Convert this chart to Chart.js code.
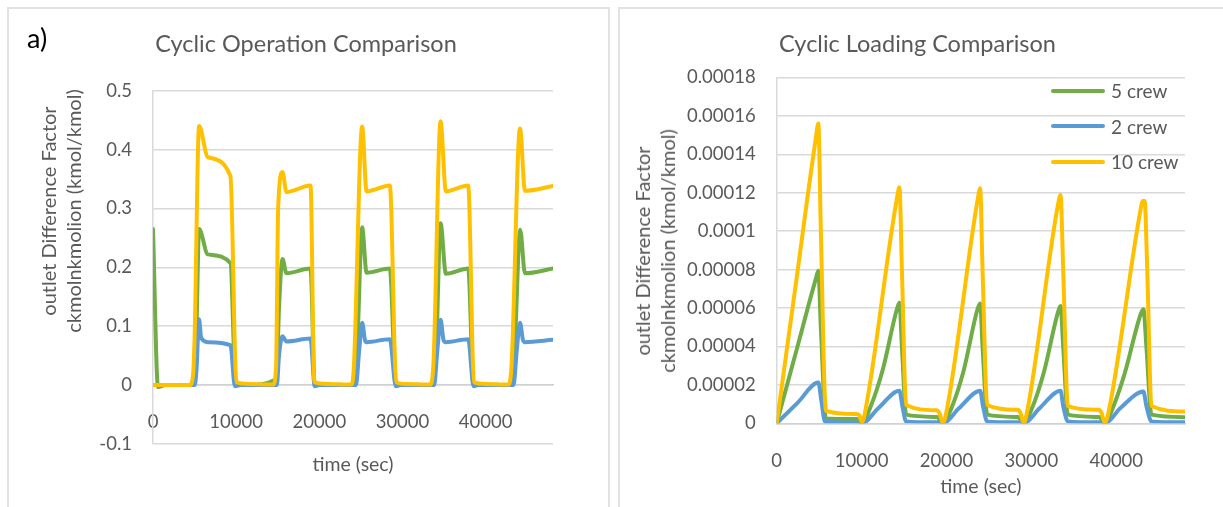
<!DOCTYPE html>
<html>
<head>
<meta charset="utf-8">
<title>Cyclic comparison</title>
<script src="https://cdn.jsdelivr.net/npm/chart.js@4.4.1/dist/chart.umd.min.js"></script>
<style>
  body { margin: 0; background: #fff; width: 1223px; height: 507px; overflow: hidden; position: relative; font-family: Lato, "Liberation Sans", sans-serif; }
  .panel { position: absolute; top: 7px; height: 530px; border: 2px solid #e2e2e2; box-sizing: border-box; }
  #panelA { left: 7px; width: 603px; }
  #panelB { left: 618px; width: 640px; }
  canvas { position: absolute; top: 0; }
  #opChart { left: 0; }
  #loadChart { left: 612px; }
  .ytitle { position: absolute; transform: translate(-50%, -50%) rotate(-90deg); white-space: nowrap; text-align: center; color: #595959; font-size: 20px; line-height: 25px; }
  #tag { position: absolute; left: 27px; top: 21px; font-size: 27px; color: #000; }
  #legend { position: absolute; left: 1051px; top: 73px; }
  .leg { height: 35.5px; display: flex; align-items: center; color: #595959; font-size: 19px; }
  .leg span { display: inline-block; width: 54px; height: 4px; border-radius: 2px; margin-right: 6px; }
</style>
</head>
<body>
<div class="panel" id="panelA"></div>
<div class="panel" id="panelB"></div>
<canvas id="opChart" width="612" height="507"></canvas>
<canvas id="loadChart" width="611" height="507"></canvas>
<div id="tag">a)</div>
<div class="ytitle" style="left:61px; top:211px">outlet Difference Factor<br>ckmolnkmolion (kmol/kmol)</div>
<div class="ytitle" style="left:655px; top:251px">outlet Difference Factor<br>ckmolnkmolion (kmol/kmol)</div>
<div id="legend"></div>
<script>
const seriesNames = ["5 crew", "2 crew", "10 crew"];
const seriesColors = ["#70AD47", "#5B9BD5", "#FFC000"];
const TIME_MAX = 48100;
const timeTicks = [0, 10000, 20000, 30000, 40000];

// left chart: cyclic operation
const opTime5 = [0, 600, 1500, 4900, 5200, 5540, 6600, 9310, 9950, 11000,
  14850, 15150, 15570, 16050, 18940, 19450, 21000,
  24250, 24600, 25150, 25680, 28480, 29200, 30500,
  33750, 34100, 34580, 35220, 37900, 38550, 40000,
  43200, 43550, 44150, 44730, 48100];
const opCrew5 = [0.265, -0.003, 0, 0, 0.08, 0.265, 0.222, 0.207, 0, 0,
  0.01, 0.13, 0.214, 0.19, 0.198, 0, 0,
  0, 0.08, 0.268, 0.191, 0.198, 0, 0,
  0, 0.08, 0.275, 0.189, 0.198, 0, 0,
  0, 0.08, 0.264, 0.19, 0.198];

const opTime2 = [0, 5000, 5250, 5400, 5540, 5800, 6600, 9310, 9850, 10500,
  14900, 15150, 15570, 16050, 18940, 19450, 20000,
  24400, 24800, 25150, 25500, 25680, 28480, 29200, 29800,
  33800, 34200, 34580, 34950, 35220, 37900, 38550, 39100,
  43350, 43750, 44130, 44500, 44730, 48100];
const opCrew2 = [0, 0, 0.03, 0.08, 0.112, 0.08, 0.073, 0.068, -0.002, 0,
  0, 0.05, 0.083, 0.074, 0.079, -0.002, 0,
  0, 0.06, 0.106, 0.076, 0.073, 0.078, -0.002, 0,
  0, 0.06, 0.111, 0.076, 0.073, 0.078, -0.002, 0,
  0, 0.06, 0.106, 0.076, 0.073, 0.077];

const opTime10 = [0, 4400, 4800, 5000, 5540, 6600, 9310, 10030, 11500,
  14440, 14800, 15050, 15570, 16050, 18940, 19400, 21000,
  23850, 24150, 25150, 25680, 28480, 29250, 30500,
  33300, 33700, 34580, 35220, 37900, 38600, 40000,
  42700, 43100, 44130, 44730, 48100];
const opCrew10 = [0, 0, 0.015, 0.08, 0.44, 0.387, 0.355, 0.005, 0.002,
  0.001, 0.03, 0.30, 0.362, 0.328, 0.339, 0.005, 0.002,
  0.001, 0.03, 0.439, 0.329, 0.339, 0.005, 0.002,
  0.001, 0.03, 0.448, 0.329, 0.339, 0.005, 0.002,
  0.001, 0.03, 0.436, 0.330, 0.338];

// right chart: cyclic loading
const loadTime5 = [0, 2300, 4600, 4906, 5200, 5800, 9430,
  10020, 11000, 12500, 14200, 14460, 14750, 15250, 18870,
  19580, 20500, 22000, 23700, 23970, 24250, 24800, 28400,
  29100, 30000, 31500, 33150, 33440, 33750, 34300, 37950,
  38650, 39500, 41000, 42900, 43200, 43550, 44150, 48100];
const loadCrew5 = [0, 0.0000375, 0.000075, 0.0000794, 0.00005, 0.0000025, 0.0000022,
  0, 0.000008, 0.000028, 0.00006, 0.0000627, 0.00004, 0.0000045, 0.0000033,
  0, 0.000007, 0.000027, 0.00006, 0.0000624, 0.00004, 0.0000045, 0.0000033,
  0, 0.000007, 0.000027, 0.000058, 0.000061, 0.00004, 0.0000045, 0.0000033,
  0, 0.000007, 0.000026, 0.000057, 0.0000593, 0.00004, 0.0000045, 0.0000032];

const loadTime2 = [0, 2450, 4906, 5250, 5700, 9430,
  10020, 12000, 14460, 14800, 15250, 18870,
  19580, 21500, 23970, 24300, 24800, 28400,
  29100, 31000, 33440, 33750, 34300, 37950,
  38650, 40500, 43200, 43550, 44150, 48100];
const loadCrew2 = [0, 0.0000106, 0.0000212, 0.000012, 0.0000008, 0.0000004,
  0, 0.000008, 0.000017, 0.000009, 0.000001, 0.0000005,
  0, 0.000008, 0.000017, 0.000009, 0.000001, 0.0000005,
  0, 0.000008, 0.000017, 0.000009, 0.000001, 0.0000005,
  0, 0.000008, 0.0000165, 0.000009, 0.000001, 0.0000005];

const loadTime10 = [0, 2300, 4600, 4906, 5200, 5800, 9430, 9750, 10050, 10500,
  14200, 14460, 14750, 15250, 18870, 19150, 19580, 20000,
  23700, 23970, 24250, 24800, 28400, 28700, 29100, 29500,
  33150, 33440, 33750, 34300, 37950, 38250, 38650, 39100,
  42900, 43100, 43350, 43650, 44150, 48100];
const loadCrew10 = [0, 0.000074, 0.000148, 0.000156, 0.0001, 0.0000065, 0.0000048, 0.000004, 0.0000005, 0.000008,
  0.000118, 0.0001228, 0.00008, 0.0000095, 0.0000068, 0.0000055, 0.0000003, 0.000006,
  0.000117, 0.0001223, 0.00008, 0.0000095, 0.000007, 0.0000055, 0.0000003, 0.000006,
  0.000114, 0.0001188, 0.00008, 0.000009, 0.000007, 0.0000055, 0.0000003, 0.000006,
  0.000112, 0.0001157, 0.0001157, 0.00008, 0.000009, 0.0000062];

const TXT = "#595959";
const GRID = "#d9d9d9";
Chart.defaults.font.family = "Lato, 'Liberation Sans', sans-serif";
Chart.defaults.color = TXT;

// yellow on top, then blue, then green
const drawOrder = [2, 1, 0];

function makeSets(times, values) {
  return times.map((t, s) => ({
    label: seriesNames[s],
    data: t.map((x, i) => ({ x: x, y: values[s][i] })),
    borderColor: seriesColors[s],
    backgroundColor: seriesColors[s],
    borderWidth: 4,
    pointRadius: 0,
    cubicInterpolationMode: "monotone",
    borderJoinStyle: "round",
    borderCapStyle: "round",
    order: drawOrder[s]
  }));
}

function spacer(w) {
  return {
    position: "right",
    ticks: { display: false },
    grid: { display: false, drawTicks: false },
    border: { display: false },
    afterFit: s => { s.width = w; }
  };
}

// chart.js spreads the ticks evenly when max is not a step multiple, so set them
function fixedTimeTicks(scale) {
  scale.ticks = timeTicks.map(v => ({ value: v }));
}

const common = {
  responsive: false,
  animation: false,
  layout: { padding: 0 },
  plugins: { legend: { display: false }, tooltip: { enabled: false } }
};

new Chart(document.getElementById("opChart"), {
  type: "line",
  data: { datasets: makeSets([opTime5, opTime2, opTime10], [opCrew5, opCrew2, opCrew10]) },
  options: {
    ...common,
    plugins: {
      ...common.plugins,
      title: { display: true, text: "Cyclic Operation Comparison", color: TXT,
        font: { size: 23.5, weight: "normal" }, padding: { top: 30, bottom: 32.5 } }
    },
    scales: {
      x: {
        type: "linear", position: { y: 0 }, min: 0, max: TIME_MAX,
        afterBuildTicks: fixedTimeTicks,
        ticks: { autoSkip: false, maxRotation: 0, padding: 18, font: { size: 18.5 }, callback: v => String(v) },
        grid: { display: false },
        border: { color: "#d0d0d0", width: 1.5 }
      },
      xt: {
        type: "linear", position: "bottom", min: 0, max: TIME_MAX,
        ticks: { display: false },
        grid: { display: false, drawTicks: false },
        border: { display: false },
        title: { display: true, text: "time (sec)", color: TXT, font: { size: 19.5 }, padding: { top: 0, bottom: 31 } },
        afterFit: s => { s.height = 63; }
      },
      y: {
        min: -0.1, max: 0.5,
        ticks: { stepSize: 0.1, padding: 21, font: { size: 18.5 }, callback: v => String(+v.toFixed(1)) },
        grid: { color: GRID, lineWidth: 1.5, drawTicks: false },
        border: { color: GRID, width: 1.5 },
        afterFit: s => { s.width = 153; }
      },
      yr: spacer(59)
    }
  }
});

new Chart(document.getElementById("loadChart"), {
  type: "line",
  data: { datasets: makeSets([loadTime5, loadTime2, loadTime10], [loadCrew5, loadCrew2, loadCrew10]) },
  options: {
    ...common,
    plugins: {
      ...common.plugins,
      title: { display: true, text: "Cyclic Loading Comparison", color: TXT,
        font: { size: 23.5, weight: "normal" }, padding: { top: 30, bottom: 19.2 } }
    },
    scales: {
      x: {
        type: "linear", position: "bottom", min: 0, max: TIME_MAX,
        afterBuildTicks: fixedTimeTicks,
        ticks: { autoSkip: false, maxRotation: 0, padding: 19, font: { size: 18.5 }, callback: v => String(v) },
        grid: { display: false },
        border: { color: "#d0d0d0", width: 1.5 },
        title: { display: true, text: "time (sec)", color: TXT, font: { size: 19.5 }, padding: { top: 0, bottom: 8.6 } },
        afterFit: s => { s.height = 83.7; }
      },
      y: {
        min: 0, max: 0.00018,
        ticks: { stepSize: 0.00002, padding: 21, font: { size: 18.5 }, callback: v => String(+v.toFixed(5)) },
        grid: { color: GRID, lineWidth: 1.5, drawTicks: false },
        border: { color: GRID, width: 1.5 },
        afterFit: s => { s.width = 164.7; }
      },
      yr: spacer(38)
    }
  }
});

// legend for the loading chart
const legend = document.getElementById("legend");
seriesNames.forEach((name, i) => {
  const row = document.createElement("div");
  row.className = "leg";
  const sw = document.createElement("span");
  sw.style.background = seriesColors[i];
  row.appendChild(sw);
  row.appendChild(document.createTextNode(name));
  legend.appendChild(row);
});
</script>
</body>
</html>
